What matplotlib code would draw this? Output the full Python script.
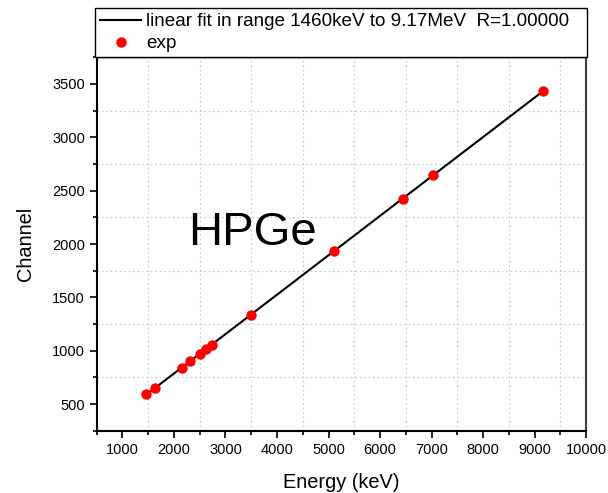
import numpy as np
import matplotlib.pyplot as plt
from matplotlib.ticker import FixedLocator

plt.rcParams['font.family'] = ['Liberation Sans', 'DejaVu Sans']

# calibration lines: gamma energy (keV) vs. peak channel
energy = [1460, 1633, 2150, 2312, 2500, 2614, 2730, 3488, 5101, 6446, 7019, 9170]
channel = [591, 653, 841, 902, 967, 1017, 1058, 1334, 1932, 2425, 2644, 3434]

fit_lo, fit_hi = 1460, 9170

def main():
    e = np.array(energy, dtype=float)
    ch = np.array(channel, dtype=float)
    m, c = np.polyfit(e, ch, 1)
    r = np.corrcoef(e, ch)[0, 1]
    xs = np.array([fit_lo, fit_hi], dtype=float)

    fig = plt.figure(figsize=(6.08, 4.93), dpi=100)
    ax = fig.add_axes([0.159, 0.126, 0.805, 0.758])

    ax.plot(xs, m * xs + c, color='black', lw=1.5,
            label='linear fit in range 1460keV to 9.17MeV  R=%.5f' % r)
    ax.plot(e, ch, 'o', color='red', markersize=6.5, ls='none', label='exp', zorder=3)

    ax.set_xlim(500, 10000)
    ax.set_ylim(250, 3750)
    ax.set_xticks(np.arange(1000, 10001, 1000))
    ax.set_yticks(np.arange(500, 3501, 500))
    # grid sits on the half-way ticks
    ax.xaxis.set_minor_locator(FixedLocator(np.arange(500, 10001, 1000)))
    ax.yaxis.set_minor_locator(FixedLocator(np.arange(250, 3751, 500)))

    ax.grid(which='minor', color='#c8c8c8', ls=(0, (1.5, 2.5)), lw=0.8)
    ax.tick_params(which='major', direction='out', length=5, width=1.2, labelsize=10.5,
                   top=False, right=False)
    ax.tick_params(which='minor', direction='out', length=3, width=1.2,
                   top=False, right=False)

    for side in ('left', 'bottom'):
        ax.spines[side].set_linewidth(1.5)
    ax.spines['right'].set_linewidth(1.5)
    ax.spines['right'].set_color('#404040')
    ax.spines['top'].set_linewidth(1.0)

    ax.set_xlabel('Energy (keV)', fontsize=14.4, labelpad=12)
    ax.set_ylabel('Channel', fontsize=14.4, labelpad=12)

    ax.text(3525, 2108, 'HPGe', fontsize=34, ha='center', va='center')

    leg = fig.legend(loc='lower left', bbox_to_anchor=(95 / 608, 1 - 57 / 493, 492 / 608, 48 / 493),
                     mode='expand', borderaxespad=0, fancybox=False, framealpha=1,
                     edgecolor='black', fontsize=13.6, handlelength=2.2, handletextpad=0.25,
                     borderpad=0.25, labelspacing=0.25)
    leg.get_frame().set_linewidth(1.0)

    fig.savefig('out.png', dpi=100)


if __name__ == '__main__':
    main()
